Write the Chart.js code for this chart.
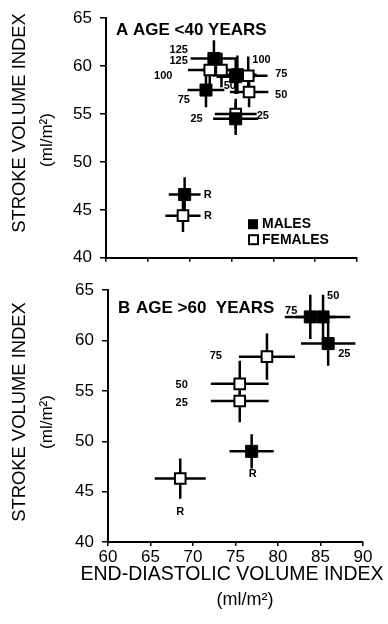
<!DOCTYPE html>
<html lang="en">
<head>
<meta charset="UTF-8">
<title>Stroke volume index vs end-diastolic volume index</title>
<script src="https://cdn.jsdelivr.net/npm/chart.js"></script>
<style>
  body { margin: 0; background: #fff; }
  .panel { position: absolute; left: 0; width: 388px; }
  #wrapA { top: 0; height: 276px; }
  #wrapB { top: 272px; height: 352px; }
</style>
</head>
<body>
<div class="panel" id="wrapA"><canvas id="chartA"></canvas></div>
<div class="panel" id="wrapB"><canvas id="chartB"></canvas></div>
<script>
const FONT = 'Arial, "Liberation Sans", Helvetica, sans-serif';

// axis ranges (ml/m2)
const edvTicks = [60, 65, 70, 75, 80, 85, 90];
const svTicks = [40, 45, 50, 55, 60, 65];

// Panel A: age < 40 years  (R = rest, numbers = exercise level)
const aLabels = ['R', '25', '50', '75', '100', '125'];
const aMaleEdv = [69.4, 75.5, 75.5, 71.95, 75.7, 72.9];
const aMaleSv = [46.6, 54.5, 58.9, 57.5, 59.1, 60.8];
const aMaleEdvErr = [1.9, 2.7, 2.3, 2.2, 2.3, 2.8];
const aMaleSvErr = [1.8, 1.7, 1.8, 1.8, 2.0, 1.9];
const aFemaleEdv = [69.2, 75.5, 77.1, 77.0, 73.8, 72.4];
const aFemaleSv = [44.4, 55.0, 57.3, 59.0, 59.6, 59.6];
const aFemaleEdvErr = [2.1, 2.5, 2.3, 2.3, 2.4, 2.6];
const aFemaleSvErr = [1.7, 1.6, 1.6, 2.0, 1.8, 1.8];

// Panel B: age > 60 years
const bLabels = ['R', '25', '50', '75'];
const bMaleEdv = [76.9, 85.9, 85.3, 83.8];
const bMaleSv = [49.0, 59.7, 62.35, 62.35];
const bMaleEdvErr = [2.6, 3.2, 3.2, 3.0];
const bMaleSvErr = [1.7, 2.2, 2.2, 2.2];
const bFemaleEdv = [68.5, 75.5, 75.5, 78.7];
const bFemaleSv = [46.3, 54.0, 55.7, 58.4];
const bFemaleEdvErr = [3.0, 3.4, 3.4, 3.3];
const bFemaleSvErr = [2.0, 2.1, 2.3, 2.3];

// where each point's tag sits relative to its marker: [dx, dy, align]
const aMaleTagPos = [[19, 0, 'left'], [-33, 0, 'right'], [-12, 9, 'left'], [-16, 10, 'right'], [15, -15, 'left'], [-26, -8, 'right']];
const aFemaleTagPos = [[21, 0, 'left'], [21, 2, 'left'], [26, 3, 'left'], [27, -2, 'left'], [-49, 6, 'right'], [-22, -9, 'right']];
const bMaleTagPos = [[1, 23, 'center'], [10, 10, 'left'], [4, -21, 'left'], [-13, -6, 'right']];
const bFemaleTagPos = [[0, 33, 'center'], [-52, 2, 'right'], [-52, 1, 'right'], [-45, -1, 'right']];

function points(xs, ys, xe, ye) {
  return xs.map((v, i) => ({ x: v, y: ys[i], xErr: xe[i], yErr: ye[i] }));
}

function panelPlugin(cfg) {
  return {
    id: 'panel' + cfg.letter,
    beforeDatasetsDraw(chart) {
      // error bars (+/- on both axes)
      const { ctx, scales: { x, y } } = chart;
      ctx.save();
      ctx.strokeStyle = '#000';
      ctx.lineWidth = 2.5;
      chart.data.datasets.forEach(ds => {
        ds.data.forEach(p => {
          const cx = x.getPixelForValue(p.x), cy = y.getPixelForValue(p.y);
          ctx.beginPath();
          ctx.moveTo(x.getPixelForValue(p.x - p.xErr), cy);
          ctx.lineTo(x.getPixelForValue(p.x + p.xErr), cy);
          ctx.moveTo(cx, y.getPixelForValue(p.y - p.yErr));
          ctx.lineTo(cx, y.getPixelForValue(p.y + p.yErr));
          ctx.stroke();
        });
      });
      ctx.restore();
    },
    afterDatasetsDraw(chart) {
      const { ctx, chartArea: area } = chart;
      ctx.save();
      ctx.fillStyle = '#000';
      ctx.textBaseline = 'middle';
      // tags next to each marker
      ctx.font = 'bold 11px ' + FONT;
      chart.data.datasets.forEach((ds, di) => {
        const meta = chart.getDatasetMeta(di);
        meta.data.forEach((el, i) => {
          const [dx, dy, align] = ds.tagPos[i];
          ctx.textAlign = align;
          ctx.fillText(ds.tags[i], el.x + dx, el.y + dy);
        });
      });
      // panel heading
      ctx.textAlign = 'left';
      ctx.font = 'bold 17px ' + FONT;
      ctx.fillText(cfg.letter, area.left + 10, area.top + cfg.headDy);
      ctx.fillText(cfg.heading, area.left + cfg.headDx, area.top + cfg.headDy);
      // legend
      if (cfg.legend) {
        ctx.font = 'bold 14px ' + FONT;
        const lx = area.left + 147, ly = area.top + 206;
        ctx.fillRect(lx - 5, ly - 5, 10, 10);
        ctx.fillText('MALES', lx + 9, ly);
        ctx.lineWidth = 2;
        ctx.strokeRect(lx - 4, ly + 11, 9, 9);
        ctx.fillText('FEMALES', lx + 9, ly + 16);
      }
      // y axis title
      ctx.textAlign = 'center';
      ctx.save();
      ctx.translate(20, cfg.yTitleY);
      ctx.rotate(-Math.PI / 2);
      ctx.font = '18.4px ' + FONT;
      ctx.fillText('STROKE VOLUME INDEX', 0, 0);
      ctx.restore();
      ctx.save();
      ctx.translate(47, cfg.yTitleY + cfg.unitDy);
      ctx.rotate(-Math.PI / 2);
      ctx.font = '17px ' + FONT;
      ctx.fillText('(ml/m²)', 0, 0);
      ctx.restore();
      // x axis title
      if (cfg.xTitle) {
        ctx.font = '19.5px ' + FONT;
        ctx.fillText('END-DIASTOLIC VOLUME INDEX', 232, area.bottom + 33);
        ctx.font = '18px ' + FONT;
        ctx.fillText('(ml/m²)', 245, area.bottom + 58);
      }
      ctx.restore();
    }
  };
}

function makePanel(id, cfg) {
  return new Chart(document.getElementById(id), {
    type: 'scatter',
    data: {
      datasets: [{
        label: 'MALES',
        data: points(cfg.maleEdv, cfg.maleSv, cfg.maleEdvErr, cfg.maleSvErr),
        tags: cfg.labels,
        tagPos: cfg.maleTagPos,
        pointStyle: 'rect',
        pointRadius: 8.5,
        backgroundColor: '#000',
        borderColor: '#000',
        borderWidth: 1
      }, {
        label: 'FEMALES',
        data: points(cfg.femaleEdv, cfg.femaleSv, cfg.femaleEdvErr, cfg.femaleSvErr),
        tags: cfg.labels,
        tagPos: cfg.femaleTagPos,
        pointStyle: 'rect',
        pointRadius: 7.5,
        backgroundColor: '#fff',
        borderColor: '#000',
        borderWidth: 2
      }]
    },
    options: {
      responsive: true,
      maintainAspectRatio: false,
      animation: false,
      layout: { padding: { top: cfg.padTop, right: cfg.padRight, left: 0, bottom: 0 } },
      plugins: { legend: { display: false }, tooltip: { enabled: false } },
      scales: {
        x: {
          type: 'linear',
          min: edvTicks[0],
          max: edvTicks[edvTicks.length - 1],
          afterBuildTicks: s => { s.ticks = edvTicks.map(v => ({ value: v })); },
          afterFit: s => { s.height = cfg.xHeight; },
          border: { color: '#000', width: 2 },
          grid: { drawOnChartArea: false, color: '#000', lineWidth: 1.5, tickLength: 4 },
          ticks: { display: cfg.xTicks, color: '#000', padding: 1, font: { family: FONT, size: 17 } }
        },
        y: {
          type: 'linear',
          min: svTicks[0],
          max: svTicks[svTicks.length - 1],
          afterBuildTicks: s => { s.ticks = svTicks.map(v => ({ value: v })); },
          afterFit: s => { s.width = cfg.yWidth; },
          border: { color: '#000', width: 2 },
          grid: { drawOnChartArea: false, color: '#000', lineWidth: 1.5, tickLength: 6 },
          ticks: { color: '#000', padding: 8, font: { family: FONT, size: 17 } }
        }
      }
    },
    plugins: [panelPlugin(cfg)]
  });
}

makePanel('chartA', {
  letter: 'A', heading: 'AGE <40 YEARS', headDx: 27, headDy: 12, legend: true, xTitle: false,
  labels: aLabels,
  maleEdv: aMaleEdv, maleSv: aMaleSv, maleEdvErr: aMaleEdvErr, maleSvErr: aMaleSvErr,
  femaleEdv: aFemaleEdv, femaleSv: aFemaleSv, femaleEdvErr: aFemaleEdvErr, femaleSvErr: aFemaleSvErr,
  maleTagPos: aMaleTagPos, femaleTagPos: aFemaleTagPos,
  padTop: 13, padRight: 31, xHeight: 14, yWidth: 106, xTicks: false,
  yTitleY: 123, unitDy: 17
});

makePanel('chartB', {
  letter: 'B', heading: 'AGE >60  YEARS', headDx: 28, headDy: 18, legend: false, xTitle: true,
  labels: bLabels,
  maleEdv: bMaleEdv, maleSv: bMaleSv, maleEdvErr: bMaleEdvErr, maleSvErr: bMaleSvErr,
  femaleEdv: bFemaleEdv, femaleSv: bFemaleSv, femaleEdvErr: bFemaleEdvErr, femaleSvErr: bFemaleSvErr,
  maleTagPos: bMaleTagPos, femaleTagPos: bFemaleTagPos,
  padTop: 15, padRight: 25, xHeight: 82, yWidth: 108, xTicks: true,
  yTitleY: 140, unitDy: 10
});
</script>
</body>
</html>
